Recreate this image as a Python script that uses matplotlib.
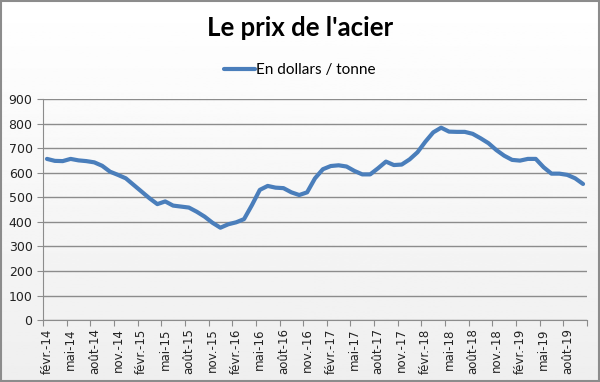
import numpy as np
import matplotlib
matplotlib.use('Agg')
import matplotlib.pyplot as plt
from matplotlib.patches import Rectangle

# prix mensuel de l'acier, fevr. 2014 -> oct. 2019
months = ['févr.', 'mars', 'avr.', 'mai', 'juin', 'juil.', 'août', 'sept.', 'oct.', 'nov.', 'déc.', 'janv.']
labels = []
year = 14
for i in range(69):
    m = months[i % 12]
    if m == 'janv.':
        year += 1
    labels.append(m + '-' + str(year))

prices = [656, 648, 647, 656, 650, 647, 642, 628, 604, 591, 577, 550,
          523, 496, 472, 483, 466, 462, 458, 441, 421, 396, 376, 390,
          398, 411, 468, 530, 546, 539, 537, 520, 509, 520, 577, 614,
          627, 630, 625, 607, 593, 593, 618, 645, 631, 633, 654, 683,
          726, 764, 783, 767, 766, 766, 758, 740, 720, 692, 669, 652,
          649, 656, 656, 622, 596, 596, 591, 577, 554]

x = np.arange(len(prices))

fig = plt.figure(figsize=(6, 3.82), dpi=100)

# fond en degrade
bg = fig.add_axes([0, 0, 1, 1], zorder=-10)
grad = np.linspace(1.0, 0.935, 256).reshape(-1, 1)
bg.imshow(grad, aspect='auto', cmap='gray', vmin=0, vmax=1, extent=[0, 1, 0, 1])
bg.axis('off')
fig.patches.append(Rectangle((0.0015, 0.002), 0.997, 0.995, transform=fig.transFigure,
                             fill=False, edgecolor='#8c8c8c', linewidth=1.5))

ax = fig.add_axes([0.0717, 0.162, 0.9066, 0.579])
ax.patch.set_alpha(0)
ax.plot(x, prices, color='#4a7ebb', linewidth=3, solid_capstyle='round',
        label='En dollars / tonne', zorder=3)

ax.set_ylim(0, 900)
ax.set_yticks(range(0, 901, 100))
ax.set_xlim(-0.5, len(prices) - 0.5)
ax.yaxis.grid(True, color='#8c8c8c', linewidth=1)

ax.set_xticks(np.arange(-0.5, len(prices), 3))
ax.set_xticklabels([])
ax.set_xticks(x[::3], minor=True)
ax.set_xticklabels(labels[::3], minor=True, rotation=90)
ax.tick_params(axis='x', which='major', length=4, color='#8c8c8c', direction='out')
ax.tick_params(axis='x', which='minor', length=0, pad=6, labelsize=8.5, labelcolor='#222222')
ax.tick_params(axis='y', length=4, color='#8c8c8c', labelsize=9, labelcolor='#222222')

for s in ['top', 'right']:
    ax.spines[s].set_visible(False)
ax.spines['left'].set_color('#8c8c8c')
ax.spines['bottom'].set_color('#8c8c8c')

fig.text(0.5, 0.927, "Le prix de l'acier", ha='center', va='center',
         fontsize=18.5, fontweight='bold', family='Lato')
fig.legend(loc='center', bbox_to_anchor=(0.5, 0.817), frameon=False,
           handlelength=2.0, handletextpad=0.1, prop={'family': 'Lato', 'size': 11})

fig.savefig('out.png', dpi=100)
